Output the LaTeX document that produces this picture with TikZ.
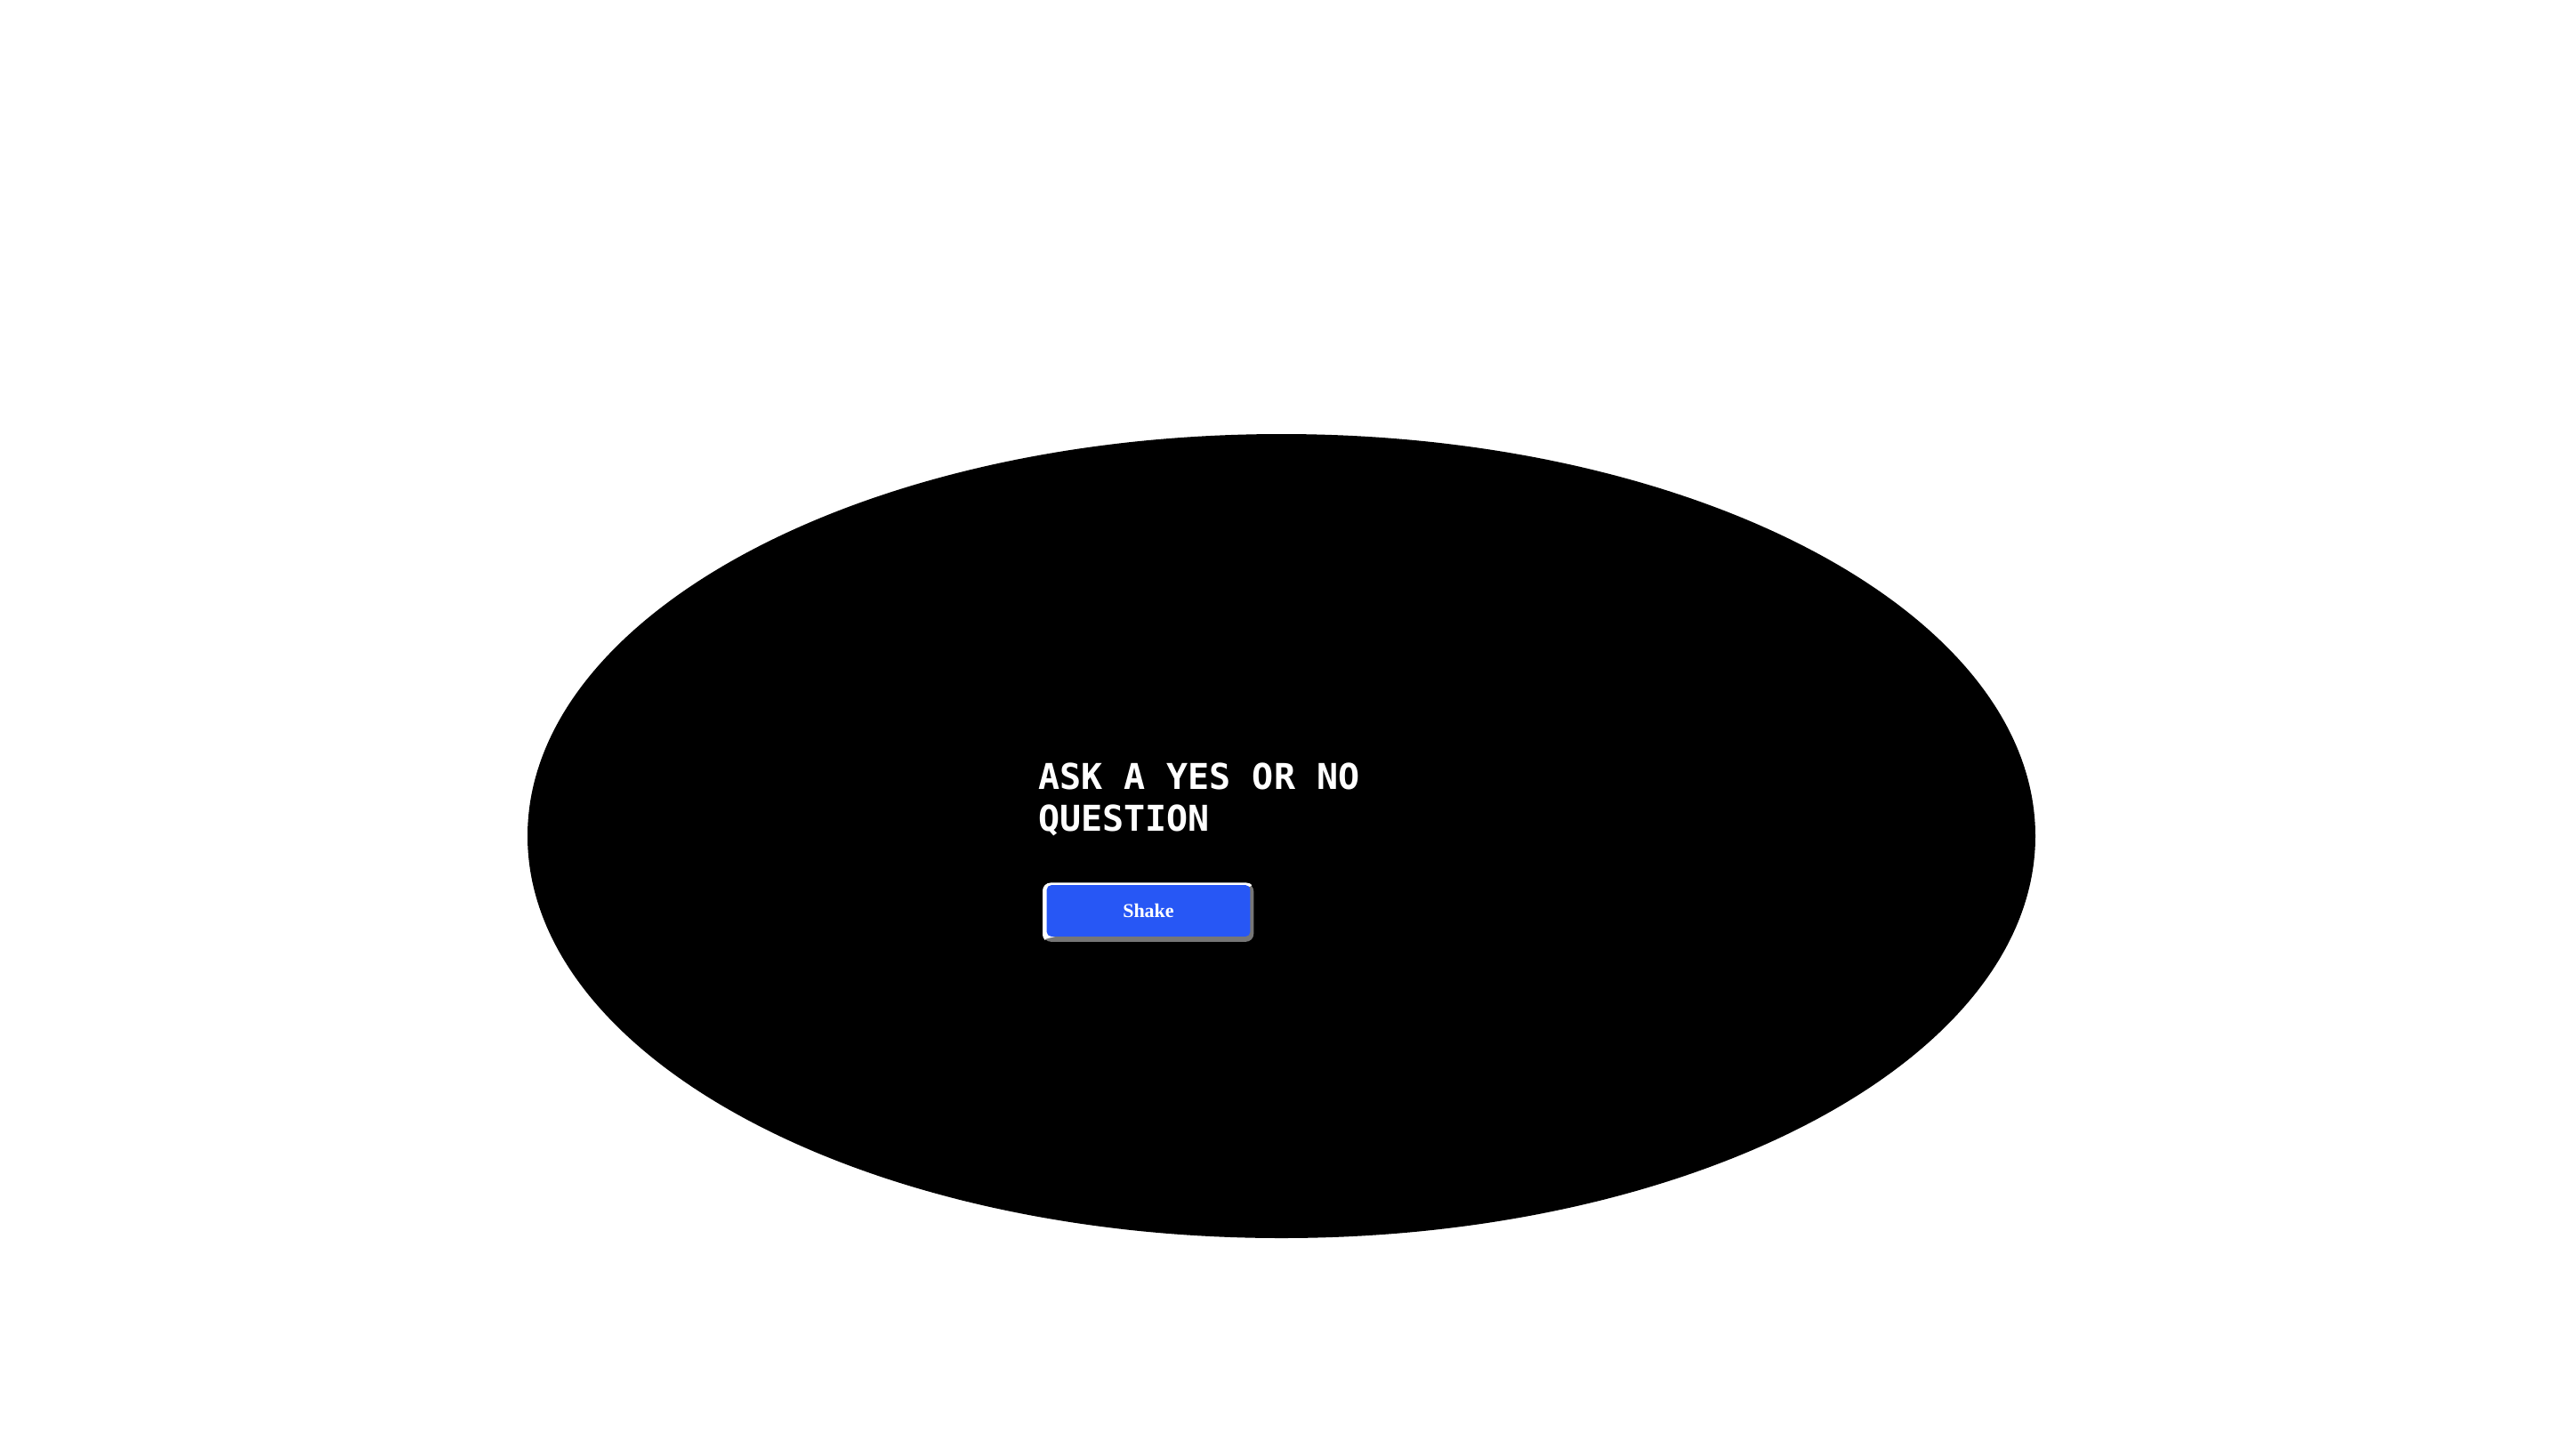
\documentclass[tikz,border=0pt]{standalone}
\usepackage{fontspec}
\usetikzlibrary{calc}
\newfontfamily\titlefont{DejaVu Sans Mono}
\newfontfamily\btnfont{Liberation Serif}
\definecolor{shakeblue}{RGB}{39,87,245}
\definecolor{edgegray}{RGB}{118,118,118}

\begin{document}
\begin{tikzpicture}

        % Page
        \fill[white] (0,0) rectangle (28.8,-16.36);
        \useasboundingbox (0,0) rectangle (28.8,-16.36);

        % Ball
        \fill[black] (14.405,-9.40) ellipse [x radius=8.475, y radius=4.52];

        % Prompt
        \node (prompt) [anchor=base west, align=left, inner sep=0, text=white,
            font=\titlefont\bfseries\fontsize{11.38pt}{13.51pt}\selectfont]
            at (11.665,-9.345) {ASK A YES OR NO\\QUESTION};

        % Button
        \node (shakeedge) [fill=edgegray, rounded corners=0.09cm, inner sep=0,
            minimum width=2.366cm, minimum height=0.657cm] at (12.91,-10.26) {};
        \begin{scope}
            \clip (shakeedge.south west) -- (shakeedge.north west) -- (shakeedge.north east)
                -- ($(shakeedge.north east)+(-0.04,-0.04)$) -- ($(shakeedge.south west)+(0.04,0.04)$) -- cycle;
            \fill[white, rounded corners=0.09cm] (shakeedge.south west) rectangle (shakeedge.north east);
        \end{scope}
        \node (shake) [fill=shakeblue, rounded corners=0.05cm, inner sep=0, text=white,
            minimum width=2.286cm, minimum height=0.577cm, yshift=0.02cm,
            font=\btnfont\bfseries\fontsize{6.26pt}{7.5pt}\selectfont]
            at (shakeedge.center) {Shake};

    \end{tikzpicture}
\end{document}
